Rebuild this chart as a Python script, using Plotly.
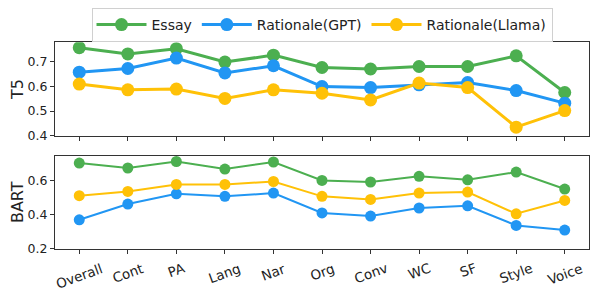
import plotly.graph_objects as go
from plotly.subplots import make_subplots

categories = ["Overall", "Cont", "PA", "Lang", "Nar", "Org", "Conv", "WC", "SF", "Style", "Voice"]

t5_essay = [0.756, 0.731, 0.752, 0.698, 0.726, 0.676, 0.670, 0.680, 0.680, 0.723, 0.575]
t5_gpt = [0.657, 0.672, 0.714, 0.654, 0.683, 0.599, 0.595, 0.606, 0.615, 0.583, 0.532]
t5_llama = [0.609, 0.586, 0.589, 0.551, 0.586, 0.572, 0.545, 0.613, 0.595, 0.435, 0.502]

bart_essay = [0.703, 0.674, 0.712, 0.668, 0.709, 0.601, 0.592, 0.625, 0.605, 0.650, 0.551]
bart_gpt = [0.371, 0.463, 0.523, 0.508, 0.527, 0.411, 0.393, 0.440, 0.453, 0.338, 0.311]
bart_llama = [0.512, 0.537, 0.578, 0.578, 0.595, 0.508, 0.490, 0.527, 0.533, 0.406, 0.484]

series_names = ["Essay", "Rationale(GPT)", "Rationale(Llama)"]
colors = ["#4CAF50", "#2196F3", "#FFC107"]

fig = make_subplots(rows=2, cols=1, shared_xaxes=False, vertical_spacing=0.05)

x = list(range(len(categories)))
for name, vals, col in zip(series_names, [t5_essay, t5_gpt, t5_llama], colors):
    fig.add_trace(go.Scatter(x=x, y=vals, mode="lines+markers", name=name,
                             line=dict(color=col, width=3),
                             marker=dict(color=col, size=13),
                             legendgroup=name, showlegend=True), row=1, col=1)
for name, vals, col in zip(series_names, [bart_essay, bart_gpt, bart_llama], colors):
    fig.add_trace(go.Scatter(x=x, y=vals, mode="lines+markers", name=name,
                             line=dict(color=col, width=2),
                             marker=dict(color=col, size=11),
                             legendgroup=name, showlegend=False), row=2, col=1)

tick_font = dict(family="DejaVu Sans", size=12.5, color="#222222")
axis_common = dict(showline=True, linecolor="#333333", linewidth=1, mirror=True,
                   ticks="outside", ticklen=4, tickcolor="#333333", showgrid=False,
                   zeroline=False, tickfont=tick_font)

fig.update_xaxes(**axis_common, tickmode="array", tickvals=x, ticktext=categories,
                 range=[-0.5, 10.5], showticklabels=False)

fig.update_yaxes(**axis_common)
title_font = dict(family="DejaVu Sans", size=16, color="#222222")
fig.update_yaxes(range=[0.4, 0.778], tickvals=[0.4, 0.5, 0.6, 0.7], ticktext=["0.4", "0.5", "0.6", "0.7"],
                 domain=[0.4695, 0.8579], row=1, col=1,
                 title=dict(text="T5", font=title_font, standoff=4))
fig.update_yaxes(range=[0.2, 0.747], tickvals=[0.2, 0.4, 0.6], ticktext=["0.2", "0.4", "0.6"],
                 domain=[0.0, 0.3879], row=2, col=1,
                 title=dict(text="BART", font=title_font, standoff=4))

# rotated, centred category labels under the bottom axis
for i, cat in enumerate(categories):
    fig.add_annotation(x=i, y=-0.035, xref="x2", yref="paper", text=cat,
                       showarrow=False, textangle=-20, xanchor="center", yanchor="top",
                       font=dict(family="DejaVu Sans", size=13.5, color="#222222"))

# page body adds an 8px offset; the figure is sized to fill the rest of the window
fig.update_layout(
    width=590, height=291,
    margin=dict(l=47, r=9, t=0, b=50),
    paper_bgcolor="white", plot_bgcolor="white",
    font=dict(family="DejaVu Sans", size=12, color="#222222"),
    legend=dict(orientation="h", x=0.5, xanchor="center", y=1.0, yanchor="top",
                bordercolor="#d0d0d0", borderwidth=1, bgcolor="white",
                font=dict(family="DejaVu Sans", size=14, color="#222222"),
                itemwidth=50),
)

fig.write_html("out.html")
